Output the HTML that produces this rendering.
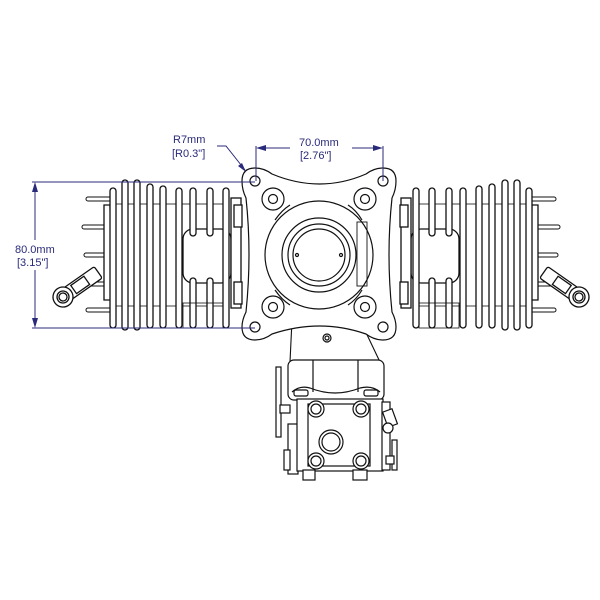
<!DOCTYPE html>
<html><head><style>
html,body{margin:0;padding:0;background:#fff;}
svg{display:block;}
text{font-family:"Liberation Sans",sans-serif;font-size:11px;fill:#2a2a7a;}
</style></head><body>
<svg width="600" height="600" viewBox="0 0 600 600" xmlns="http://www.w3.org/2000/svg">
<defs>
<g id="cyl" fill="#fff" stroke="#111" stroke-width="1.3">
  <g stroke-width="1">
    <rect x="86" y="197" width="28" height="4" rx="2"/>
    <rect x="82" y="225" width="32" height="4" rx="2"/>
    <rect x="84" y="253" width="30" height="4" rx="2"/>
    <rect x="84" y="282" width="30" height="4" rx="2"/>
    <rect x="86" y="308" width="28" height="4" rx="2"/>
  </g>
  <path d="M104 205 L110 205 L112 300 L104 300 Z"/>
  <g transform="rotate(-35 63 297)">
    <rect x="66" y="290" width="40" height="14" rx="2"/>
    <rect x="76" y="292" width="16" height="10"/>
    <circle cx="63" cy="297" r="10"/>
    <circle cx="63" cy="297" r="6"/>
    <circle cx="63" cy="297" r="4"/>
  </g>
  <rect x="116" y="204" width="110" height="102" fill="none" stroke-width="0.8"/>
  <rect x="110" y="188" width="6" height="140" rx="3"/>
  <rect x="122" y="180" width="6" height="150" rx="3"/>
  <rect x="134" y="180" width="6" height="150" rx="3"/>
  <rect x="147" y="184" width="6" height="144" rx="3"/>
  <rect x="160" y="186" width="6" height="142" rx="3"/>
  <rect x="176" y="188" width="6" height="140" rx="3"/>
  <rect x="183" y="229" width="48" height="54" rx="10"/>
  <rect x="190" y="188" width="6" height="48" rx="3"/>
  <rect x="190" y="278" width="6" height="50" rx="3"/>
  <rect x="207" y="188" width="6" height="48" rx="3"/>
  <rect x="207" y="278" width="6" height="50" rx="3"/>
  <rect x="223" y="188" width="6" height="140" rx="3"/>
  <rect x="231" y="198" width="10" height="110"/>
  <rect x="234" y="205" width="8" height="22"/>
  <rect x="234" y="282" width="8" height="22"/>
  <rect x="183" y="303" width="40" height="25" fill="none" stroke-width="0.8"/>
</g>
</defs>

<use href="#cyl"/>
<use href="#cyl" transform="translate(642,0) scale(-1,1)"/>

<g fill="#fff" stroke="#111" stroke-width="1.1">
  <path d="M292 320 L290 362 L380 362 L360 320 Z"/>
</g>

<g fill="#fff" stroke="#111" stroke-width="1.2">
  <path d="M255 168 Q242 168 242 181 Q242 190 246 198 Q252 254 246 312 Q242 320 242 327 Q242 340 255 340 Q264 340 272 334 Q320 318 366 334 Q374 340 383 340 Q396 340 396 327 Q396 320 392 312 Q386 254 392 198 Q396 190 396 181 Q396 168 383 168 Q374 168 366 174 Q320 194 272 174 Q264 168 255 168 Z"/>
  <circle cx="319" cy="255" r="54"/>
  <path d="M275 220 Q282 210 290 205 M362 220 Q356 210 348 205 M275 290 Q282 300 290 305 M362 290 Q356 300 348 305" fill="none"/>
  <rect x="357" y="222" width="10" height="64" fill="none" stroke-width="0.9"/>
  <circle cx="319" cy="255" r="37"/>
  <circle cx="319" cy="255" r="31"/>
  <circle cx="319" cy="255" r="26"/>
  <circle cx="297" cy="255" r="1.5"/>
  <circle cx="341" cy="255" r="1.5"/>
  <g>
    <circle cx="273" cy="199" r="11"/><circle cx="273" cy="199" r="4.5"/>
    <circle cx="365" cy="199" r="11"/><circle cx="365" cy="199" r="4.5"/>
    <circle cx="273" cy="307" r="11"/><circle cx="273" cy="307" r="4.5"/>
    <circle cx="365" cy="307" r="11"/><circle cx="365" cy="307" r="4.5"/>
  </g>
  <circle cx="255" cy="181" r="5"/><circle cx="383" cy="181" r="5"/>
  <circle cx="255" cy="327" r="5"/><circle cx="383" cy="327" r="5"/>
  <circle cx="327" cy="338" r="4"/><circle cx="327" cy="338" r="2"/>
</g>

<g fill="#fff" stroke="#111" stroke-width="1.2">
  <rect x="276" y="367" width="5" height="70"/>
  <rect x="280" y="405" width="10" height="8"/>
  <rect x="288" y="424" width="10" height="50"/>
  <rect x="284" y="450" width="6" height="20"/>
  <rect x="288" y="360" width="96" height="40" rx="6"/>
  <line x1="313" y1="360" x2="313" y2="392"/>
  <line x1="358" y1="360" x2="358" y2="392"/>
  <path d="M292 392 Q300 385 310 388 Q335 398 360 388 Q372 385 380 392" fill="none"/>
  <rect x="294" y="390" width="14" height="6" rx="2"/>
  <rect x="364" y="390" width="14" height="6" rx="2"/>
  <rect x="297" y="399" width="86" height="72"/>
  <rect x="308" y="404" width="62" height="62" fill="none"/>
  <rect x="303" y="470" width="12" height="10"/>
  <rect x="353" y="470" width="14" height="10"/>
  <rect x="382" y="402" width="8" height="68"/>
  <rect x="385" y="410" width="10" height="16" transform="rotate(-20 390 418)"/>
  <circle cx="388" cy="428" r="5"/>
  <rect x="392" y="440" width="5" height="30"/>
  <rect x="386" y="456" width="8" height="8"/>
  <circle cx="316" cy="409" r="8"/><circle cx="316" cy="409" r="5"/>
  <circle cx="361" cy="409" r="8"/><circle cx="361" cy="409" r="5"/>
  <circle cx="316" cy="461" r="8"/><circle cx="316" cy="461" r="5"/>
  <circle cx="361" cy="461" r="8"/><circle cx="361" cy="461" r="5"/>
  <circle cx="331" cy="442" r="12"/><circle cx="331" cy="442" r="9"/>
</g>

<g stroke="#2a2a7a" stroke-width="1" fill="none">
  <line x1="32" y1="182" x2="255" y2="182"/>
  <line x1="32" y1="328" x2="255" y2="328"/>
  <line x1="35" y1="184" x2="35" y2="240"/>
  <line x1="35" y1="270" x2="35" y2="326"/>
  <line x1="256" y1="146" x2="256" y2="181"/>
  <line x1="383" y1="146" x2="383" y2="181"/>
  <line x1="258" y1="148" x2="290" y2="148"/>
  <line x1="352" y1="148" x2="381" y2="148"/>
  <path d="M217 146 L226 146 L245 170"/>
</g>
<g fill="#2a2a7a">
  <path d="M35 182 L32 192 L38 192 Z"/>
  <path d="M35 328 L32 318 L38 318 Z"/>
  <path d="M256 148 L266 145 L266 151 Z"/>
  <path d="M383 148 L373 145 L373 151 Z"/>
  <path d="M246 172 L238 166 L242 163 Z"/>
</g>
<text x="15" y="253">80.0mm</text>
<text x="17" y="266">[3.15"]</text>
<text x="299" y="146">70.0mm</text>
<text x="300" y="159">[2.76"]</text>
<text x="173" y="143">R7mm</text>
<text x="172" y="157">[R0.3"]</text>
</svg>
</body></html>
